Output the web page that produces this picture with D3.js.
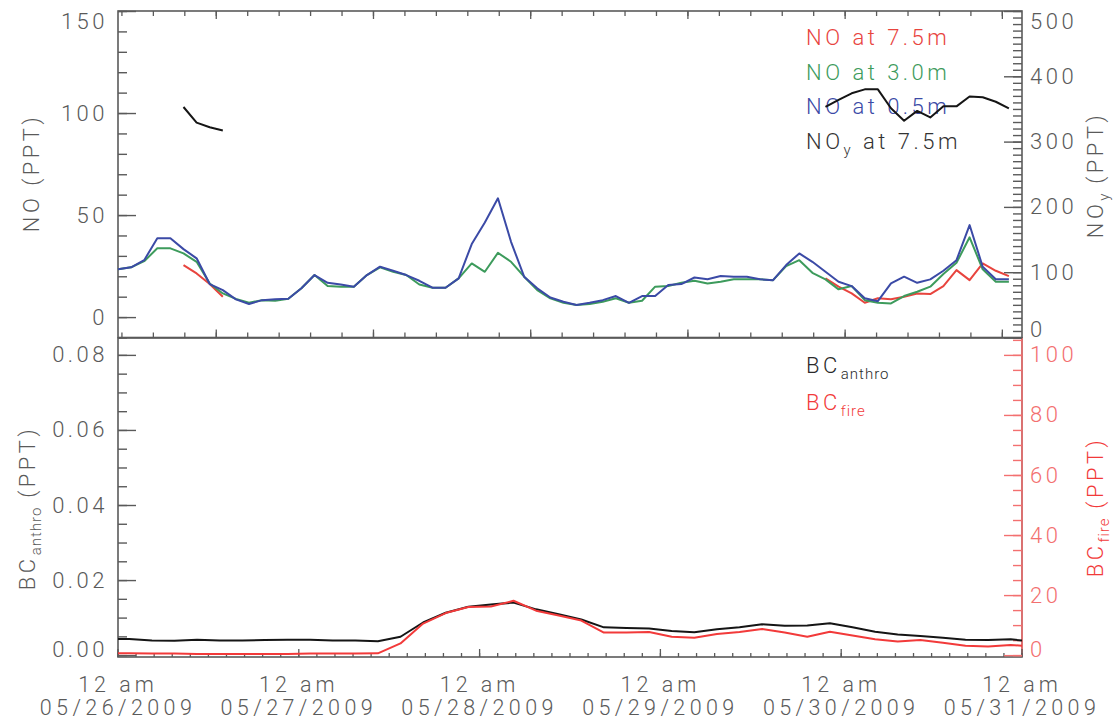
<!DOCTYPE html>
<html>
<head>
<meta charset="utf-8">
<script src="https://cdn.jsdelivr.net/npm/d3@7"></script>
<style>
  body { margin: 0; background: #ffffff; }
  text { font-family: Roboto, 'Liberation Sans', sans-serif; font-weight: 300; letter-spacing: 3.5px; }
</style>
</head>
<body>
<script>
/**
Two stacked panels: NO / NOy on top, black carbon split on the bottom.
*/

const width = 1120;
const height = 727;

// ---- data ----
// top panel, 2 hourly, hours counted from the left edge of the panel
const noHours = d3.range(0, 138, 2);
const no05 = [23.4, 24.4, 27.9, 38.6, 38.6, 33.3, 28.8, 16.2, 13.2, 8.7,
  6.4, 8.3, 8.7, 9.0, 14.1, 20.6, 16.8, 16.0, 14.9, 20.6,
  24.7, 22.7, 20.6, 17.8, 14.4, 14.4, 19.0, 35.8, 46.4, 58.2,
  36.9, 19.8, 14.1, 9.6, 7.5, 5.9, 7.0, 8.3, 10.3, 7.0,
  10.3, 10.3, 15.7, 16.2, 19.4, 18.5, 20.1, 19.8, 19.8, 18.5,
  18.1, 25.5, 31.2, 27.1, 22.2, 17.3, 15.2, 9.2, 7.8, 16.5,
  19.8, 16.8, 18.5, 22.7, 27.9, 45.1, 24.7, 18.5, 18.5];
const no30 = [23.4, 24.4, 27.4, 33.7, 33.7, 31.2, 27.1, 16.5, 11.6, 8.9,
  7.0, 8.3, 8.0, 9.0, 14.1, 20.6, 15.2, 14.9, 14.9, 20.6,
  24.4, 22.2, 20.6, 16.0, 14.4, 14.4, 19.0, 26.3, 22.2, 31.5,
  27.1, 19.8, 13.2, 9.2, 7.0, 5.9, 6.4, 7.5, 9.2, 7.0,
  8.0, 14.9, 15.2, 16.8, 17.8, 16.5, 17.3, 18.5, 18.5, 18.5,
  18.1, 25.0, 27.9, 21.7, 18.5, 13.6, 15.2, 8.3, 7.0, 6.7,
  10.3, 12.4, 14.9, 21.1, 26.6, 39.1, 23.4, 17.3, 17.3];
const no75 = [null, null, null, null, null, 25.5, 21.4, 16.2, 10.0, null,
  null, null, null, null, null, null, null, null, null, null,
  null, null, null, null, null, null, null, null, null, null,
  null, null, null, null, null, null, null, null, null, null,
  null, null, null, null, null, null, null, null, null, null,
  null, null, null, null, 19.0, 14.9, 11.6, 7.0, 9.2, 8.7,
  10.0, 11.6, 11.3, 15.2, 23.0, 18.1, 26.3, 22.7, 20.1];
const noy75 = [null, null, null, null, null, 353, 329, 322, 317, null,
  null, null, null, null, null, null, null, null, null, null,
  null, null, null, null, null, null, null, null, null, null,
  null, null, null, null, null, null, null, null, null, null,
  null, null, null, null, null, null, null, null, null, null,
  null, null, null, null, 353, 364, 374, 380, 380, 351,
  332, 347, 337, 354, 354, 369, 368, 361, 351];

// bottom panel, 3 hourly means, hours from 12 am 05/26/2009
const bcHours = d3.range(-1.5, 122, 3);
const bcAnthro = [0.0043, 0.0043, 0.0039, 0.0038, 0.0041, 0.0039, 0.0039, 0.0040, 0.0041, 0.0041,
  0.0039, 0.0039, 0.0037, 0.0049, 0.0087, 0.0113, 0.0129, 0.0135, 0.0140, 0.0122,
  0.0109, 0.0095, 0.0074, 0.0072, 0.0071, 0.0064, 0.0061, 0.0069, 0.0074, 0.0082,
  0.0078, 0.0079, 0.0085, 0.0074, 0.0062, 0.0055, 0.0051, 0.0046, 0.0041, 0.0040,
  0.0042, 0.0036];
const bcFire = [0.7, 0.6, 0.5, 0.5, 0.4, 0.4, 0.4, 0.4, 0.4, 0.5,
  0.5, 0.5, 0.6, 3.9, 10.5, 14.0, 16.0, 16.2, 18.1, 14.8,
  13.2, 11.5, 7.5, 7.5, 7.7, 6.1, 5.8, 7.0, 7.7, 8.7,
  7.5, 6.1, 7.8, 6.5, 5.3, 4.5, 5.0, 4.1, 3.1, 2.9,
  3.4, 2.8];

// axis ticks
const noTicks = [0, 50, 100, 150];
const noyTicks = [0, 100, 200, 300, 400, 500];
const bcaTicks = [0, 0.02, 0.04, 0.06, 0.08];
const bcfTicks = [0, 20, 40, 60, 80, 100];
const topDayTicks = [15, 39, 63, 87, 111, 135];
const dayTicks = [0, 24, 48, 72, 96, 120];
const dayLabels = ['05/26/2009', '05/27/2009', '05/28/2009', '05/29/2009', '05/30/2009', '05/31/2009'];

// ---- colours ----
const gray = '#5a5a5a';
const cRed = '#e8443e';
const cGreen = '#3d9b5c';
const cBlue = '#3b4aa6';
const cBlack = '#151515';
const cFire = '#f23a3a';
const cFireAxis = '#f37070';

// ---- layout ----
const left = 118, right = 1022;
const top1 = 11, bot1 = 337.5;
const top2 = 338, bot2 = 657;

var svg = d3.select('body')
  .append('svg')
  .attr('width', width)
  .attr('height', height)
  .style('background-color', '#ffffff');

// scales
var xTop = d3.scaleLinear().domain([0, 138]).range([left, right]);
var xBot = d3.scaleLinear().domain([0, 120]).range([left, right]);
var yNO = d3.scaleLinear().domain([-10, 150]).range([bot1, top1]);
var yNOy = d3.scaleLinear().domain([0, 500]).range([bot1, top1]);
var yBCa = d3.scaleLinear().domain([-0.0005, 0.0845]).range([bot2, top2]);
var yBCf = d3.scaleLinear().domain([-0.625, 105.625]).range([bot2, top2]);

svg.append('defs').append('clipPath').attr('id', 'clipBot')
  .append('rect').attr('x', left).attr('y', top2).attr('width', right - left).attr('height', bot2 - top2);

/**
draw a y axis with major + minor ticks pointing into the plot
*/
function yAxis(scale, x, side, majors, minorStep, fmt, color, yMin, yMax) {
  var mk = side === 'left' ? d3.axisLeft : d3.axisRight;
  var d = scale.domain();
  var minors = d3.range(Math.ceil(d[0] / minorStep) * minorStep, d[1] + minorStep / 10, minorStep);
  var gMin = svg.append('g').attr('transform', 'translate(' + x + ',0)')
    .call(mk(scale).tickValues(minors).tickSize(-9).tickFormat(''));
  var gMaj = svg.append('g').attr('transform', 'translate(' + x + ',0)')
    .call(mk(scale).tickValues(majors).tickSize(-18).tickPadding(side === 'left' ? 10 : 8).tickFormat(fmt));
  [gMin, gMaj].forEach(function(g) {
    g.select('.domain').remove();
    g.selectAll('line').attr('stroke', color).attr('stroke-width', 1.4);
  });
  // keep the end labels inside the frame
  gMaj.selectAll('text')
    .attr('fill', color)
    .style('font-size', '22px')
    .attr('y', function(v) {
      var p = scale(v);
      return Math.min(Math.max(p, yMin + 10), yMax - 8) - p;
    });
  return gMaj;
}

/**
plain tick row along a horizontal edge, no labels
*/
function xTicks(scale, y, values, len, dir) {
  svg.append('g').selectAll('line')
    .data(values)
    .join('line')
    .attr('x1', function(d) { return scale(d); })
    .attr('x2', function(d) { return scale(d); })
    .attr('y1', y)
    .attr('y2', y + dir * len)
    .attr('stroke', gray)
    .attr('stroke-width', 1.3);
}

// ---- frames ----
svg.append('rect')
  .attr('x', left).attr('y', top1).attr('width', right - left).attr('height', bot1 - top1)
  .attr('fill', 'none').attr('stroke', gray).attr('stroke-width', 1.6);
svg.append('rect')
  .attr('x', left).attr('y', top2).attr('width', right - left).attr('height', bot2 - top2)
  .attr('fill', 'none').attr('stroke', gray).attr('stroke-width', 1.6);
svg.append('line')
  .attr('x1', right).attr('x2', right).attr('y1', top2).attr('y2', bot2)
  .attr('stroke', cFireAxis).attr('stroke-width', 1.6);

// ---- x ticks ----
var topMinor = d3.range(0.6, 138, 4.8);
xTicks(xTop, top1, topMinor, 5, 1);
xTicks(xTop, top1, topDayTicks, 8, 1);
xTicks(xTop, bot1, topMinor, 5, -1);
xTicks(xTop, bot1, topDayTicks, 8, -1);
xTicks(xBot, bot2, d3.range(0, 120.1, 2.4), 4, -1);
xTicks(xBot, bot2, dayTicks, 8, -1);

// date labels under the bottom panel, two rows
svg.append('g').selectAll('text')
  .data(dayTicks)
  .join('text')
  .attr('x', function(d) { return xBot(d); })
  .attr('y', 692)
  .attr('text-anchor', 'middle')
  .attr('fill', gray)
  .style('font-size', '21.5px')
  .style('letter-spacing', '4px')
  .text('12 am');
svg.append('g').selectAll('text')
  .data(dayTicks)
  .join('text')
  .attr('x', function(d) { return xBot(d); })
  .attr('y', 715)
  .attr('text-anchor', 'middle')
  .attr('fill', gray)
  .style('font-size', '21.5px')
  .style('letter-spacing', '4.4px')
  .text(function(d, i) { return dayLabels[i]; });

// ---- y axes ----
yAxis(yNO, left, 'left', noTicks, 10, d3.format('d'), gray, top1, bot1);
yAxis(yNOy, right, 'right', noyTicks, 10, d3.format('d'), gray, top1, bot1);
yAxis(yBCa, left, 'left', bcaTicks, 0.005, d3.format('.2f'), gray, top2, bot2);
yAxis(yBCf, right, 'right', bcfTicks, 5, d3.format('d'), cFireAxis, top2, bot2);

// axis titles
function yTitle(x, y, color, main, sub) {
  var t = svg.append('text')
    .attr('transform', 'translate(' + x + ',' + y + ') rotate(-90)')
    .attr('text-anchor', 'middle')
    .attr('fill', color)
    .style('font-size', '22px');
  t.append('tspan').text(main);
  if (sub) {
    t.append('tspan').attr('dy', 6).style('font-size', '15px').style('letter-spacing', '1px').text(sub);
    t.append('tspan').attr('dy', -6).text(' (PPT)');
  } else {
    t.append('tspan').text(' (PPT)');
  }
}
yTitle(39, 173, gray, 'NO', null);
yTitle(1103, 175, gray, 'NO', 'y');
yTitle(35, 508, gray, 'BC', 'anthro');
yTitle(1103, 507, cFire, 'BC', 'fire');

// ---- legends ----
const legNO = [
  { label: 'NO', sub: null, rest: ' at 7.5m', color: cRed },
  { label: 'NO', sub: null, rest: ' at 3.0m', color: cGreen },
  { label: 'NO', sub: null, rest: ' at 0.5m', color: cBlue },
  { label: 'NO', sub: 'y', rest: ' at 7.5m', color: '#333333' }
];
legNO.forEach(function(d, i) {
  var t = svg.append('text')
    .attr('x', 806).attr('y', 45 + i * 34.6)
    .attr('fill', d.color)
    .style('font-size', '22px');
  t.append('tspan').text(d.label);
  if (d.sub) {
    t.append('tspan').attr('dy', 6).style('font-size', '15px').text(d.sub);
    t.append('tspan').attr('dy', -6).text(d.rest);
  } else {
    t.append('tspan').text(d.rest);
  }
});

const legBC = [
  { sub: 'anthro', color: '#2a2a2a' },
  { sub: 'fire', color: cFire }
];
legBC.forEach(function(d, i) {
  var t = svg.append('text')
    .attr('x', 806).attr('y', 373 + i * 37)
    .attr('fill', d.color)
    .style('font-size', '22px');
  t.append('tspan').text('BC');
  t.append('tspan').attr('dy', 6).style('font-size', '15px').style('letter-spacing', '1px').text(d.sub);
});

// ---- lines ----
function drawLine(xs, ys, xScale, yScale, color, clip) {
  var pts = xs.map(function(h, i) { return [h, ys[i]]; });
  var line = d3.line()
    .defined(function(d) { return d[1] != null; })
    .x(function(d) { return xScale(d[0]); })
    .y(function(d) { return yScale(d[1]); });
  var p = svg.append('path')
    .datum(pts)
    .attr('d', line)
    .attr('fill', 'none')
    .attr('stroke', color)
    .attr('stroke-width', 2)
    .attr('stroke-linejoin', 'round');
  if (clip) p.attr('clip-path', 'url(#' + clip + ')');
}

drawLine(noHours, no75, xTop, yNO, cRed);
drawLine(noHours, no30, xTop, yNO, cGreen);
drawLine(noHours, no05, xTop, yNO, cBlue);
drawLine(noHours, noy75, xTop, yNOy, cBlack);

drawLine(bcHours, bcAnthro, xBot, yBCa, cBlack, 'clipBot');
drawLine(bcHours, bcFire, xBot, yBCf, cFire, 'clipBot');
</script>
</body>
</html>
